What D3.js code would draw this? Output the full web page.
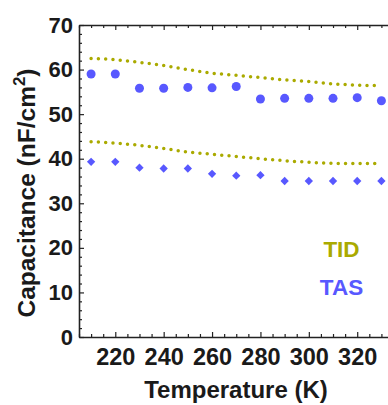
<!DOCTYPE html>
<html>
<head>
<meta charset="utf-8">
<script src="https://cdn.jsdelivr.net/npm/d3@7"></script>
<style>
  body { margin: 0; background: #fff; }
  text { font-family: "Liberation Sans", Arial, sans-serif; font-weight: bold; }
</style>
</head>
<body>
<svg id="svg"></svg>
<script>
// temperatures (K)
const temps = [210, 220, 230, 240, 250, 260, 270, 280, 290, 300, 310, 320, 330];
// TAS measurements (blue markers)
const tasHigh = [59.0, 59.0, 55.8, 55.8, 56.0, 55.9, 56.2, 53.4, 53.55, 53.55, 53.55, 53.7, 53.0];
const tasLow = [39.3, 39.3, 38.0, 37.8, 37.8, 36.6, 36.2, 36.3, 35.0, 35.0, 35.0, 35.0, 35.0];
// TID curves (olive dotted lines)
const tidHigh = [62.5, 62.2, 61.6, 60.9, 60.0, 59.2, 58.7, 58.2, 57.7, 57.3, 56.8, 56.5, 56.4];
const tidLow = [43.8, 43.5, 43.0, 42.3, 41.5, 41.0, 40.5, 40.0, 39.55, 39.2, 38.95, 38.9, 38.9];
// tick labels
const xTicks = [220, 240, 260, 280, 300, 320];
const yTicks = [0, 10, 20, 30, 40, 50, 60, 70];
const legendNames = ['TID', 'TAS'];

const W = 388, H = 405;
const tidColor = '#aaaa00';
const tasColor = '#5858ff';

const svg = d3.select('#svg')
  .attr('width', W)
  .attr('height', H);

const x = d3.scaleLinear().domain([205, 335]).range([79, 393.5]);
const y = d3.scaleLinear().domain([0, 70]).range([337, 25]);

// frame + ticks
const minorX = d3.range(205, 336, 5).filter(d => xTicks.indexOf(d) < 0);
const minorY = d3.range(0, 71, 2).filter(d => yTicks.indexOf(d) < 0);

function drawAxis(g, axis) {
  g.call(axis);
  g.select('.domain').attr('stroke', '#222').attr('stroke-width', 1.6);
  g.selectAll('.tick line').attr('stroke', '#222').attr('stroke-width', 1.2);
}

// bottom axis with labels
svg.append('g')
  .attr('transform', 'translate(0,' + y(0) + ')')
  .call(g => drawAxis(g, d3.axisBottom(x).tickValues(xTicks).tickSizeInner(-5).tickSizeOuter(0).tickPadding(11).tickFormat(d3.format('d'))))
  .call(g => g.selectAll('.tick text').attr('font-size', 23.5).attr('fill', '#1a1a1a'));
svg.append('g')
  .attr('transform', 'translate(0,' + y(0) + ')')
  .call(g => drawAxis(g, d3.axisBottom(x).tickValues(minorX).tickSize(-3).tickFormat('')))
  .select('.domain').remove();

// top axis, ticks only
svg.append('g')
  .attr('transform', 'translate(0,' + y(70) + ')')
  .call(g => drawAxis(g, d3.axisTop(x).tickValues(xTicks).tickSizeInner(-5).tickSizeOuter(0).tickFormat('')));
svg.append('g')
  .attr('transform', 'translate(0,' + y(70) + ')')
  .call(g => drawAxis(g, d3.axisTop(x).tickValues(minorX).tickSize(-3).tickFormat('')))
  .select('.domain').remove();

// left axis
svg.append('g')
  .attr('transform', 'translate(' + x(205) + ',0)')
  .call(g => drawAxis(g, d3.axisLeft(y).tickValues(yTicks).tickSizeInner(-5).tickSizeOuter(0).tickPadding(6)))
  .call(g => g.selectAll('.tick text').attr('font-size', 22).attr('fill', '#1a1a1a'));
svg.append('g')
  .attr('transform', 'translate(' + x(205) + ',0)')
  .call(g => drawAxis(g, d3.axisLeft(y).tickValues(minorY).tickSize(-3).tickFormat('')))
  .select('.domain').remove();

// axis titles
svg.append('text')
  .attr('x', 236)
  .attr('y', 398)
  .attr('text-anchor', 'middle')
  .attr('font-size', 24)
  .attr('fill', '#1a1a1a')
  .text('Temperature (K)');

const yTitle = svg.append('text')
  .attr('transform', 'translate(35,193) rotate(-90)')
  .attr('text-anchor', 'middle')
  .attr('font-size', 24.5)
  .attr('fill', '#1a1a1a');
yTitle.append('tspan').text('Capacitance (nF/cm');
yTitle.append('tspan').attr('font-size', 17).attr('dy', -10).text('2');
yTitle.append('tspan').attr('dy', 10).text(')');

// TID dotted curves
const line = d3.line()
  .x((d, i) => x(temps[i]))
  .y(d => y(d))
  .curve(d3.curveMonotoneX);

[tidHigh, tidLow].forEach(series => {
  svg.append('path')
    .datum(series)
    .attr('d', line)
    .attr('fill', 'none')
    .attr('stroke', tidColor)
    .attr('stroke-width', 3.5)
    .attr('stroke-linecap', 'round')
    .attr('stroke-dasharray', '0 7.3');
});

// TAS circles
svg.append('g')
  .selectAll('circle')
  .data(tasHigh)
  .enter()
  .append('circle')
  .attr('cx', (d, i) => x(temps[i]))
  .attr('cy', d => y(d))
  .attr('r', 4.5)
  .attr('fill', tasColor);

// TAS diamonds
const diamond = d3.symbol().type(d3.symbolDiamond2).size(44);
svg.append('g')
  .selectAll('path')
  .data(tasLow)
  .enter()
  .append('path')
  .attr('transform', (d, i) => 'translate(' + x(temps[i]) + ',' + y(d) + ')')
  .attr('d', diamond)
  .attr('fill', tasColor);

// legend labels
svg.append('g')
  .selectAll('text')
  .data(legendNames)
  .enter()
  .append('text')
  .attr('x', 341.5)
  .attr('y', (d, i) => 257 + i * 38)
  .attr('text-anchor', 'middle')
  .attr('font-size', 22.5)
  .attr('fill', (d, i) => i === 0 ? tidColor : tasColor)
  .text(d => d);
</script>
</body>
</html>
